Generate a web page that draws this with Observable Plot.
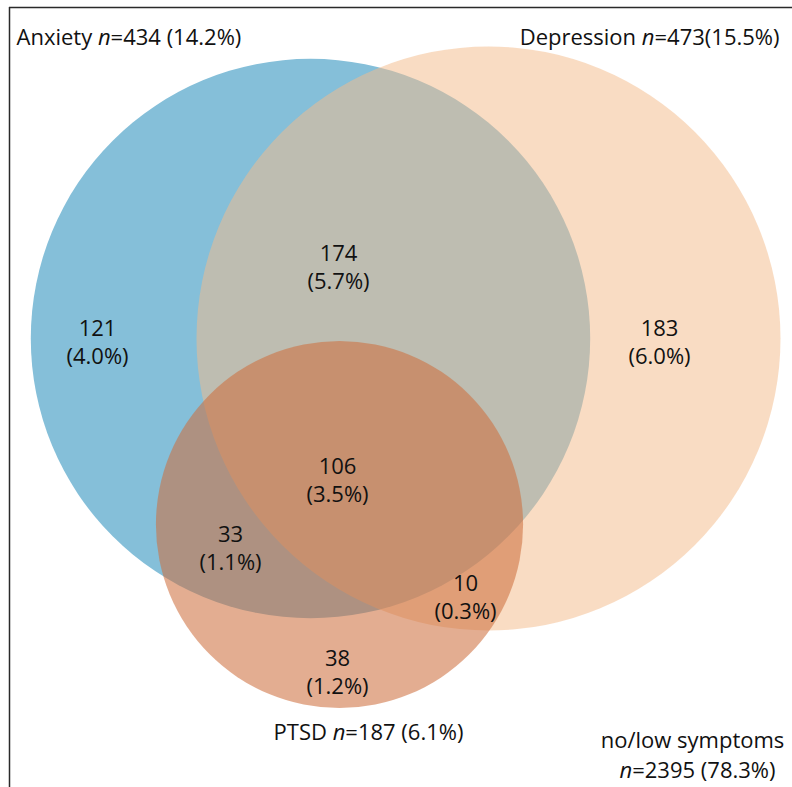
<!DOCTYPE html>
<html>
<head>
<meta charset="utf-8">
<script src="https://cdn.jsdelivr.net/npm/d3@7"></script>
<script src="https://cdn.jsdelivr.net/npm/@observablehq/plot@0.6"></script>
<style>
  html, body { margin: 0; padding: 0; background: #fff; }
  #chart svg { display: block; }
</style>
</head>
<body>
<div id="chart"></div>
<script>
// ---- Data ----
const sets = ["Anxiety", "Depression", "PTSD"];
const setTotals = [434, 473, 187];
const setPercents = ["14.2%", "15.5%", "6.1%"];

const regions = ["Anxiety only", "Depression only", "Anxiety & Depression", "Anxiety & PTSD", "Depression & PTSD", "All three", "PTSD only"];
const regionCounts = [121, 183, 174, 33, 10, 106, 38];
const regionPercents = ["4.0%", "6.0%", "5.7%", "1.1%", "0.3%", "3.5%", "1.2%"];

const noneLabel = "no/low symptoms";
const noneCount = 2395;
const nonePercent = "78.3%";

// ---- Layout (pixel coordinates of the diagram) ----
const circleCenters = [[310, 338], [488, 338], [339, 524]];
const circleColors = ["#85bfd9", "#f4bb8c", "#cd6f3e"];
const circleOpacity = [1, 0.52, 0.57];
const regionPos = [[97, 328], [659, 328], [338, 253], [230, 534], [465, 583], [337, 466], [337, 658]];

const circles = sets.map((s, i) => ({
  name: s, total: setTotals[i],
  x: circleCenters[i][0], y: circleCenters[i][1],
  fill: circleColors[i], op: circleOpacity[i]
}));

const regionRows = regions.map((r, i) => ({
  name: r, count: regionCounts[i], pct: regionPercents[i],
  x: regionPos[i][0], y: regionPos[i][1]
}));

const font = "'Open Sans', 'Noto Sans', sans-serif";
const fs = 22;

const chart = Plot.plot({
  width: 792,
  height: 787,
  margin: 0,
  style: { fontFamily: font, background: "#fff" },
  x: { domain: [0, 792], range: [0, 792], axis: null },
  y: { domain: [0, 787], range: [0, 787], axis: null },
  r: { type: "sqrt", domain: [0, 473], range: [0, 292] },
  marks: [
    Plot.dot(circles, {
      x: "x", y: "y", r: "total", sort: null,
      fill: d => d.fill, fillOpacity: d => d.op, stroke: null
    }),
    Plot.text(regionRows, {
      x: "x", y: "y", text: d => String(d.count),
      fontSize: fs, fill: "#111"
    }),
    Plot.text(regionRows, {
      x: "x", y: d => d.y + 28, text: d => `(${d.pct})`,
      fontSize: fs, fill: "#111"
    }),
    // set labels
    Plot.text([0], {
      x: 16, y: 37, text: () => `${sets[0]} n=${setTotals[0]} (${setPercents[0]})`,
      textAnchor: "start", fontSize: fs, fill: "#111"
    }),
    Plot.text([0], {
      x: 779, y: 37, text: () => `${sets[1]} n=${setTotals[1]}(${setPercents[1]})`,
      textAnchor: "end", fontSize: fs, fill: "#111"
    }),
    Plot.text([0], {
      x: 368, y: 732, text: () => `${sets[2]} n=${setTotals[2]} (${setPercents[2]})`,
      fontSize: fs, fill: "#111"
    }),
    Plot.text([0], {
      x: 692, y: 740, text: () => noneLabel,
      fontSize: fs, fill: "#111"
    }),
    Plot.text([0], {
      x: 697, y: 770, text: () => `n=${noneCount} (${nonePercent})`,
      fontSize: fs, fill: "#111"
    }),
    // frame (left and top edges)
    Plot.ruleX([9], { y1: 7, y2: 787, stroke: "#2a2a2a", strokeWidth: 1.5 }),
    Plot.ruleY([7], { x1: 9, x2: 792, stroke: "#2a2a2a", strokeWidth: 1.5 })
  ]
});

// italicise the "n" in "n=" labels
chart.querySelectorAll("text").forEach(t => {
  const s = t.textContent;
  const m = s.match(/^(.*?)(^|\s)n=(.*)$/);
  if (!m || t.children.length) return;
  const before = m[1] + m[2];
  const after = "=" + m[3];
  t.textContent = "";
  const ns = "http://www.w3.org/2000/svg";
  if (before) { const a = document.createElementNS(ns, "tspan"); a.textContent = before; t.appendChild(a); }
  const b = document.createElementNS(ns, "tspan"); b.textContent = "n"; b.setAttribute("font-style", "italic"); t.appendChild(b);
  const c = document.createElementNS(ns, "tspan"); c.textContent = after; t.appendChild(c);
});

document.getElementById("chart").appendChild(chart);
</script>
</body>
</html>
